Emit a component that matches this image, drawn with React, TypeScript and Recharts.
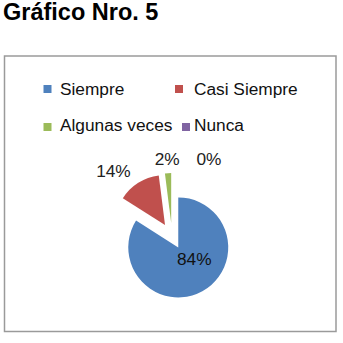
import { PieChart, Pie, Cell, Legend } from 'recharts';

const categories = ['Siempre', 'Casi Siempre', 'Algunas veces', 'Nunca'];
const percentages = [84, 14, 2, 0];
const sliceColors = ['#4f81bd', '#c0504d', '#9bbb59', '#8064a2'];

const rows = categories.map((name, i) => ({ name, value: percentages[i] }));
const total = percentages.reduce((a, b) => a + b, 0);

const FONT = '"Liberation Sans", Arial, sans-serif';
const CX = 172;
const CY = 236;
const R = 50;
const EXPLODE = 13;

// Excel-style: slices go clockwise from 12 o'clock, each pushed out along its mid angle
const midAngles = percentages.map((v, i) => {
  const before = percentages.slice(0, i).reduce((a, b) => a + b, 0);
  return ((before + v / 2) / total) * 360;
});

const RADIAN = Math.PI / 180;

const makeLabel = (slice: number) => (props: any) => {
  const { cx, cy, midAngle, index, value } = props;
  if (index !== slice) return null;
  const a = -midAngle * RADIAN;
  let x: number;
  let y: number;
  let anchor: 'start' | 'middle' | 'end' = 'middle';
  if (value > 50) {
    x = cx + R * 0.32;
    y = cy + R * 0.24;
  } else {
    const rr = R + 14;
    x = cx + rr * Math.cos(a);
    y = cy + rr * Math.sin(a);
    if (Math.cos(a) < -0.3) anchor = 'end';
    if (value === 0) x += 37;
  }
  return (
    <text
      x={x}
      y={y}
      textAnchor={anchor}
      dominantBaseline="central"
      fontFamily={FONT}
      fontSize={17.3}
      fill={value > 50 ? '#111' : '#222'}
    >
      {`${value}%`}
    </text>
  );
};

const legendMarkers = [
  { x: 43.5, y: 85 },
  { x: 175, y: 85 },
  { x: 43.5, y: 123 },
  { x: 182, y: 123 }
];
const legendText = [
  { x: 60, y: 94.5 },
  { x: 194, y: 94.5 },
  { x: 60, y: 131 },
  { x: 194, y: 131 }
];

const ChartLegend = () => (
  <svg width={343} height={150} style={{ display: 'block' }}>
    {categories.map((name, i) => (
      <g key={name}>
        <rect x={legendMarkers[i].x} y={legendMarkers[i].y} width={8} height={8} fill={sliceColors[i]} />
        <text x={legendText[i].x} y={legendText[i].y} fontFamily={FONT} fontSize={17.3} fill="#111">
          {name}
        </text>
      </g>
    ))}
  </svg>
);

export default function App() {
  return (
    <div style={{ position: 'absolute', left: 0, top: 0, width: 343, height: 343, background: '#fff' }}>
      <svg width={343} height={343} style={{ position: 'absolute', left: 0, top: 0, display: 'block' }}>
        <text x={3} y={19.5} fontFamily={FONT} fontWeight="bold" fontSize={23.5} fill="#000">
          Gráfico Nro. 5
        </text>
        <rect x={4.5} y={56} width={331.5} height={275.5} fill="none" stroke="#9a9a9a" strokeWidth={1.5} />
      </svg>
      <div style={{ position: 'absolute', left: 0, top: 0 }}>
        <PieChart width={343} height={343} margin={{ top: 0, right: 0, bottom: 0, left: 0 }}>
          {midAngles.map((mid, i) => (
            <Pie
              key={categories[i]}
              data={rows}
              dataKey="value"
              nameKey="name"
              cx={CX + EXPLODE * Math.sin(mid * RADIAN)}
              cy={CY - EXPLODE * Math.cos(mid * RADIAN)}
              outerRadius={R}
              startAngle={90}
              endAngle={-270}
              stroke="none"
              label={makeLabel(i)}
              labelLine={false}
              legendType="none"
              isAnimationActive={false}
            >
              {rows.map((row, j) => (
                <Cell key={row.name} fill={j === i ? sliceColors[j] : 'transparent'} />
              ))}
            </Pie>
          ))}
          <Legend
            content={() => <ChartLegend />}
            wrapperStyle={{ position: 'absolute', left: 0, top: 0, width: 343, height: 150 }}
          />
        </PieChart>
      </div>
    </div>
  );
}
